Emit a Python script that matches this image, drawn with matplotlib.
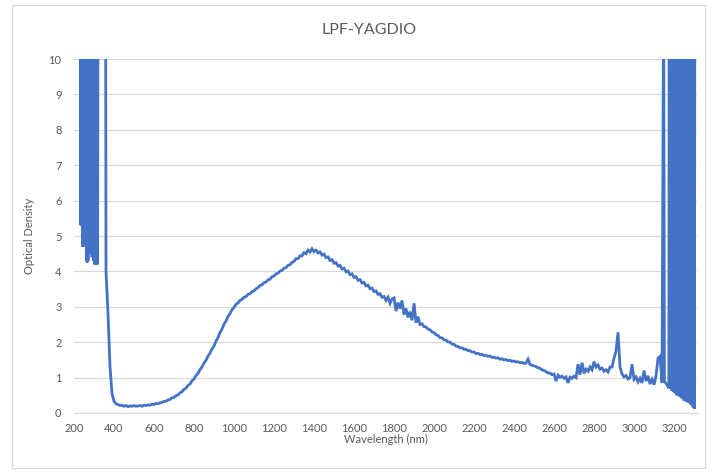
import numpy as np
import matplotlib.pyplot as plt
from matplotlib.patches import Rectangle

plt.rcParams['font.family'] = ['Lato', 'DejaVu Sans']

# saturated start (values above 10 are clipped by the axis)
start_wl = [200, 232]
start_od = [12, 12]

# noisy saturated band 234-318 nm: lower ends of the spikes, every 4 nm
left_low_wl = list(range(234, 319, 4))
left_low_od = [5.3, 5.3, 4.7, 4.7, 4.8, 4.9, 4.9, 4.3, 4.25, 4.3, 4.6,
               4.5, 4.6, 4.55, 4.4, 4.5, 4.3, 4.2, 4.25, 4.2, 4.3, 4.2]

# saturated again until the edge
edge_wl = [322, 358]
edge_od = [12, 12]

# measured curve, 360-3140 nm every 10 nm
main_wl = list(range(360, 3141, 10))
main_od = [
    4.00, 2.80, 1.30, 0.55, 0.33, 0.26, 0.24, 0.21, 0.22, 0.19,
    0.21, 0.18, 0.20, 0.19, 0.21, 0.19, 0.20, 0.21, 0.19, 0.22,
    0.21, 0.23, 0.22, 0.25, 0.24, 0.27, 0.26, 0.29, 0.30, 0.33,
    0.33, 0.37, 0.38, 0.43, 0.44, 0.49, 0.51, 0.57, 0.60, 0.67,
    0.70, 0.78, 0.82, 0.91, 0.96, 1.06, 1.12, 1.23, 1.30, 1.41,
    1.49, 1.61, 1.69, 1.81, 1.89, 2.03, 2.13, 2.27, 2.37, 2.51,
    2.60, 2.73, 2.81, 2.92, 2.98, 3.07, 3.11, 3.18, 3.21, 3.27,
    3.29, 3.35, 3.37, 3.43, 3.45, 3.51, 3.54, 3.60, 3.62, 3.68,
    3.70, 3.76, 3.78, 3.85, 3.87, 3.93, 3.95, 4.01, 4.03, 4.09,
    4.11, 4.17, 4.19, 4.26, 4.28, 4.36, 4.36, 4.44, 4.44, 4.53,
    4.50, 4.60, 4.55, 4.64, 4.56, 4.60, 4.52, 4.55, 4.46, 4.49,
    4.39, 4.41, 4.31, 4.33, 4.23, 4.25, 4.15, 4.17, 4.07, 4.09,
    3.99, 4.01, 3.91, 3.93, 3.83, 3.85, 3.75, 3.77, 3.67, 3.69,
    3.59, 3.61, 3.51, 3.53, 3.43, 3.45, 3.35, 3.37, 3.27, 3.29,
    3.18, 3.27, 3.10, 3.22, 3.25, 2.88, 3.12, 2.95, 3.18, 2.78,
    2.95, 2.70, 2.86, 2.62, 3.10, 2.55, 2.72, 2.50, 2.52, 2.44,
    2.43, 2.37, 2.35, 2.29, 2.27, 2.21, 2.19, 2.13, 2.12, 2.07,
    2.06, 2.01, 2.00, 1.95, 1.94, 1.89, 1.88, 1.84, 1.84, 1.80,
    1.80, 1.76, 1.76, 1.72, 1.72, 1.68, 1.69, 1.65, 1.66, 1.62,
    1.63, 1.60, 1.61, 1.57, 1.58, 1.55, 1.56, 1.52, 1.53, 1.50,
    1.51, 1.48, 1.49, 1.46, 1.47, 1.44, 1.45, 1.42, 1.43, 1.40,
    1.41, 1.52, 1.37, 1.35, 1.33, 1.31, 1.28, 1.26, 1.22, 1.20,
    1.17, 1.13, 1.13, 1.08, 1.10, 0.90, 1.07, 1.01, 1.04, 0.98,
    1.02, 0.85, 1.01, 0.98, 1.04, 1.00, 1.38, 1.08, 1.42, 1.12,
    1.24, 1.18, 1.30, 1.22, 1.45, 1.30, 1.36, 1.24, 1.27, 1.18,
    1.22, 1.16, 1.30, 1.30, 1.55, 1.75, 2.28, 1.30, 1.10, 1.02,
    1.06, 0.96, 1.00, 1.38, 0.95, 1.02, 0.88, 0.98, 0.85, 1.20,
    0.90, 1.05, 0.82, 0.95, 0.80, 1.05, 1.55, 1.60, 0.85,
]

# single spike near 3150 nm
spike_wl = [3148, 3152, 3164]
spike_od = [12, 0.90, 0.80]

# noisy saturated band 3174-3302 nm: lower ends of the spikes, every 4 nm
right_low_wl = list(range(3174, 3303, 4))
right_low_od = [0.70, 0.72, 0.68, 0.70, 0.62, 0.65, 0.60, 0.58,
                0.62, 0.55, 0.50, 0.55, 0.48, 0.50, 0.45, 0.47, 0.42, 0.45,
                0.40, 0.35, 0.42, 0.38, 0.32, 0.35, 0.30, 0.36, 0.28, 0.25,
                0.30, 0.22, 0.18, 0.15, 0.12]


def saturate(low_wl, low_od):
    # each measured low point is followed by a point over range (12)
    wl, od = [], []
    for w, v in zip(low_wl, low_od):
        wl += [w, w + 2]
        od += [v, 12]
    return wl, od


lw1, lo1 = saturate(left_low_wl, left_low_od)
rw1, ro1 = saturate(right_low_wl, right_low_od)

wl = start_wl + lw1 + edge_wl + main_wl + spike_wl + rw1
od = start_od + lo1 + edge_od + main_od + spike_od + ro1

fig = plt.figure(figsize=(7.13, 4.74), dpi=100)
ax = fig.add_axes([0.1038, 0.1287, 0.8738, 0.7468])

ax.plot(wl, od, color='#4472C4', lw=2.0, solid_joinstyle='miter')

ax.set_xlim(200, 3315)
ax.set_ylim(0, 10)
ax.set_xticks(range(200, 3201, 200))
ax.set_yticks(range(0, 11))
ax.grid(axis='y', color='#d9d9d9', lw=0.9)
ax.set_axisbelow(True)
for s in ['top', 'right', 'left']:
    ax.spines[s].set_visible(False)
ax.spines['bottom'].set_color('#d9d9d9')
ax.spines['bottom'].set_linewidth(0.9)
ax.tick_params(length=0, labelsize=8, labelcolor='#595959')
ax.tick_params(axis='y', pad=9)
ax.tick_params(axis='x', pad=7)

ax.set_xlabel('Wavelength (nm)', fontsize=8, color='#595959', labelpad=0)
ax.set_ylabel('Optical Density', fontsize=8, color='#595959', labelpad=10)

fig.text(0.517, 0.937, 'LPF-YAGDIO', fontsize=11.5, color='#595959',
         ha='center', va='center')

fig.patches.append(Rectangle((12 / 713, 6 / 474), 693 / 713, 463 / 474,
                             transform=fig.transFigure, fill=False,
                             edgecolor='#d9d9d9', lw=0.8))

fig.savefig('out.png', dpi=100)
